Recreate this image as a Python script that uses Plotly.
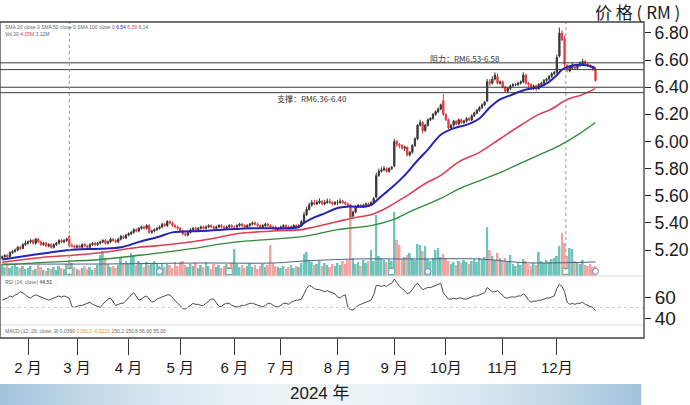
import pandas as pd
import plotly.graph_objects as go

# ---------------- data ----------------
holidays = ["2024-01-25", "2024-02-01", "2024-02-12", "2024-03-28", "2024-04-10", "2024-04-11",
            "2024-05-01", "2024-05-22", "2024-06-03", "2024-06-17", "2024-07-08", "2024-09-16",
            "2024-10-31"]

open_ = [
    5.14, 5.15, 5.16, 5.15, 5.18, 5.19, 5.20, 5.22, 5.21, 5.24,
    5.25, 5.26, 5.27, 5.25, 5.28, 5.26, 5.24, 5.25, 5.23, 5.24, 5.22, 5.24, 5.25, 5.27, 5.26, 5.27, 5.30, 5.23, 5.23,
    5.22, 5.23, 5.22, 5.24, 5.23, 5.22, 5.24, 5.25, 5.24, 5.25, 5.26, 5.27, 5.25, 5.26, 5.28, 5.27, 5.26, 5.28, 5.30, 5.29,
    5.31, 5.32, 5.33, 5.35, 5.34, 5.36, 5.37, 5.36, 5.38, 5.33, 5.34, 5.35, 5.36, 5.37, 5.39, 5.38, 5.41, 5.40, 5.38, 5.37,
    5.36, 5.34, 5.32, 5.31, 5.33, 5.35, 5.36, 5.35, 5.36, 5.37, 5.36, 5.37, 5.38, 5.37, 5.36, 5.37, 5.38, 5.37, 5.36, 5.37, 5.38,
    5.37, 5.37, 5.38, 5.39, 5.38, 5.37, 5.38, 5.39, 5.40, 5.39, 5.38, 5.37, 5.38, 5.39, 5.38, 5.37, 5.37, 5.35,
    5.36, 5.37, 5.38, 5.37, 5.36, 5.37, 5.38, 5.37, 5.38, 5.41, 5.46, 5.50, 5.53, 5.55, 5.54, 5.55, 5.56, 5.54, 5.55, 5.56, 5.55, 5.54,
    5.55, 5.55, 5.56, 5.55, 5.54, 5.53, 5.45, 5.48, 5.52, 5.53, 5.52, 5.53, 5.54, 5.53, 5.55, 5.59, 5.75, 5.78, 5.79, 5.80, 5.78, 5.80,
    5.82, 6.00, 5.98, 5.97, 5.95, 5.96, 5.90, 5.92, 5.97, 6.02, 6.12, 6.14, 6.08, 6.12, 6.16, 6.17, 6.20, 6.22, 6.24, 6.30,
    6.20, 6.16, 6.10, 6.12, 6.15, 6.13, 6.16, 6.14, 6.15, 6.17, 6.16, 6.19, 6.21, 6.23, 6.25, 6.27, 6.30, 6.44, 6.43, 6.46, 6.48, 6.43,
    6.44, 6.40, 6.37, 6.39, 6.41, 6.42, 6.42, 6.43, 6.44, 6.49, 6.43, 6.42, 6.40, 6.41, 6.39, 6.42, 6.43, 6.45, 6.46, 6.48, 6.50,
    6.51, 6.63, 6.80, 6.76, 6.56, 6.52, 6.54, 6.55, 6.54, 6.56, 6.57, 6.59, 6.57, 6.56, 6.55, 6.53,
]
high = [
    5.16, 5.17, 5.17, 5.19, 5.20, 5.21, 5.23, 5.23, 5.25, 5.27,
    5.27, 5.28, 5.28, 5.29, 5.29, 5.27, 5.26, 5.26, 5.25, 5.25, 5.25, 5.26, 5.28, 5.28, 5.28, 5.29, 5.31, 5.25, 5.24,
    5.24, 5.24, 5.25, 5.25, 5.24, 5.25, 5.26, 5.26, 5.26, 5.27, 5.28, 5.28, 5.27, 5.29, 5.29, 5.28, 5.29, 5.31, 5.31, 5.32,
    5.33, 5.34, 5.36, 5.36, 5.37, 5.38, 5.38, 5.39, 5.39, 5.35, 5.36, 5.37, 5.38, 5.40, 5.40, 5.42, 5.42, 5.41, 5.39, 5.38,
    5.37, 5.35, 5.33, 5.34, 5.36, 5.37, 5.37, 5.37, 5.38, 5.38, 5.38, 5.39, 5.39, 5.38, 5.38, 5.39, 5.39, 5.38, 5.38, 5.39, 5.39,
    5.38, 5.39, 5.40, 5.40, 5.39, 5.39, 5.40, 5.41, 5.41, 5.40, 5.39, 5.39, 5.40, 5.40, 5.39, 5.38, 5.38, 5.37,
    5.38, 5.39, 5.39, 5.38, 5.38, 5.39, 5.39, 5.39, 5.42, 5.48, 5.52, 5.55, 5.57, 5.57, 5.57, 5.58, 5.57, 5.57, 5.58, 5.58, 5.56, 5.56,
    5.57, 5.58, 5.57, 5.56, 5.55, 5.54, 5.49, 5.53, 5.54, 5.54, 5.54, 5.55, 5.55, 5.56, 5.59, 5.77, 5.80, 5.81, 5.82, 5.81, 5.81, 5.82,
    6.02, 6.01, 5.99, 5.98, 5.97, 5.96, 5.93, 5.98, 6.03, 6.13, 6.16, 6.15, 6.13, 6.17, 6.18, 6.21, 6.23, 6.25, 6.28, 6.35,
    6.21, 6.17, 6.13, 6.16, 6.16, 6.17, 6.17, 6.16, 6.18, 6.18, 6.20, 6.22, 6.24, 6.26, 6.28, 6.30, 6.46, 6.46, 6.48, 6.51, 6.50, 6.45,
    6.45, 6.41, 6.40, 6.42, 6.43, 6.43, 6.44, 6.45, 6.51, 6.50, 6.44, 6.43, 6.42, 6.42, 6.43, 6.44, 6.46, 6.47, 6.49, 6.51, 6.52,
    6.64, 6.84, 6.82, 6.78, 6.57, 6.56, 6.58, 6.57, 6.57, 6.59, 6.61, 6.60, 6.58, 6.57, 6.56, 6.54,
]
low = [
    5.13, 5.14, 5.14, 5.15, 5.17, 5.18, 5.19, 5.20, 5.21, 5.23,
    5.24, 5.25, 5.24, 5.24, 5.25, 5.23, 5.23, 5.22, 5.22, 5.21, 5.21, 5.23, 5.24, 5.25, 5.25, 5.26, 5.22, 5.22, 5.21,
    5.21, 5.21, 5.21, 5.22, 5.21, 5.21, 5.23, 5.23, 5.23, 5.24, 5.25, 5.24, 5.24, 5.25, 5.26, 5.25, 5.25, 5.27, 5.28, 5.28,
    5.30, 5.31, 5.32, 5.33, 5.33, 5.35, 5.35, 5.35, 5.32, 5.32, 5.33, 5.34, 5.35, 5.36, 5.37, 5.37, 5.39, 5.37, 5.36, 5.35,
    5.33, 5.31, 5.30, 5.30, 5.32, 5.34, 5.34, 5.34, 5.35, 5.35, 5.35, 5.36, 5.36, 5.35, 5.35, 5.36, 5.36, 5.35, 5.35, 5.36, 5.36,
    5.36, 5.36, 5.37, 5.37, 5.36, 5.36, 5.37, 5.38, 5.38, 5.37, 5.36, 5.36, 5.37, 5.37, 5.36, 5.35, 5.34, 5.34,
    5.35, 5.36, 5.36, 5.35, 5.35, 5.36, 5.36, 5.36, 5.37, 5.40, 5.45, 5.49, 5.52, 5.53, 5.53, 5.54, 5.53, 5.53, 5.54, 5.54, 5.53, 5.53,
    5.53, 5.54, 5.54, 5.53, 5.52, 5.43, 5.44, 5.47, 5.51, 5.51, 5.51, 5.52, 5.52, 5.53, 5.54, 5.58, 5.74, 5.77, 5.78, 5.77, 5.77, 5.79,
    5.81, 5.96, 5.95, 5.94, 5.93, 5.89, 5.89, 5.91, 5.96, 6.01, 6.11, 6.06, 6.07, 6.11, 6.15, 6.16, 6.19, 6.21, 6.23, 6.19,
    6.15, 6.09, 6.09, 6.11, 6.12, 6.12, 6.13, 6.13, 6.14, 6.15, 6.15, 6.18, 6.20, 6.22, 6.24, 6.26, 6.29, 6.41, 6.42, 6.45, 6.42, 6.42,
    6.39, 6.36, 6.36, 6.38, 6.40, 6.41, 6.41, 6.42, 6.43, 6.42, 6.40, 6.38, 6.38, 6.37, 6.38, 6.41, 6.42, 6.44, 6.45, 6.47, 6.49,
    6.50, 6.62, 6.74, 6.55, 6.51, 6.51, 6.53, 6.53, 6.53, 6.55, 6.56, 6.56, 6.55, 6.54, 6.52, 6.44,
]
close = [
    5.15, 5.16, 5.15, 5.18, 5.19, 5.20, 5.22, 5.21, 5.24, 5.25,
    5.26, 5.27, 5.25, 5.28, 5.26, 5.24, 5.25, 5.23, 5.24, 5.22, 5.24, 5.25, 5.27, 5.26, 5.27, 5.28, 5.23, 5.23, 5.22,
    5.23, 5.22, 5.24, 5.23, 5.22, 5.24, 5.25, 5.24, 5.25, 5.26, 5.27, 5.25, 5.26, 5.28, 5.27, 5.26, 5.28, 5.30, 5.29, 5.31,
    5.32, 5.33, 5.35, 5.34, 5.36, 5.37, 5.36, 5.38, 5.33, 5.34, 5.35, 5.36, 5.37, 5.39, 5.38, 5.41, 5.40, 5.38, 5.37, 5.36,
    5.34, 5.32, 5.31, 5.33, 5.35, 5.36, 5.35, 5.36, 5.37, 5.36, 5.37, 5.38, 5.37, 5.36, 5.37, 5.38, 5.37, 5.36, 5.37, 5.38, 5.37,
    5.37, 5.38, 5.39, 5.38, 5.37, 5.38, 5.39, 5.40, 5.39, 5.38, 5.37, 5.38, 5.39, 5.38, 5.37, 5.36, 5.35, 5.36,
    5.37, 5.38, 5.37, 5.36, 5.37, 5.38, 5.37, 5.38, 5.41, 5.46, 5.50, 5.53, 5.55, 5.54, 5.55, 5.56, 5.54, 5.55, 5.56, 5.55, 5.54, 5.55,
    5.55, 5.56, 5.55, 5.54, 5.53, 5.44, 5.48, 5.52, 5.53, 5.52, 5.53, 5.54, 5.53, 5.55, 5.58, 5.75, 5.78, 5.79, 5.80, 5.78, 5.80, 5.81,
    6.00, 5.98, 5.97, 5.95, 5.96, 5.90, 5.92, 5.97, 6.02, 6.12, 6.14, 6.08, 6.12, 6.16, 6.17, 6.20, 6.22, 6.24, 6.27, 6.20,
    6.16, 6.10, 6.12, 6.15, 6.13, 6.16, 6.14, 6.15, 6.17, 6.16, 6.19, 6.21, 6.23, 6.25, 6.27, 6.29, 6.44, 6.43, 6.46, 6.49, 6.43, 6.44,
    6.40, 6.37, 6.39, 6.41, 6.42, 6.42, 6.43, 6.44, 6.49, 6.43, 6.42, 6.40, 6.41, 6.39, 6.42, 6.43, 6.45, 6.46, 6.48, 6.50, 6.51,
    6.62, 6.80, 6.75, 6.57, 6.53, 6.55, 6.56, 6.54, 6.56, 6.58, 6.59, 6.57, 6.56, 6.55, 6.53, 6.45,
]
volume_m = [
    2.4, 1.8, 2.2, 1.6, 2.0, 2.4, 1.8, 1.6, 2.0, 1.4,
    1.6, 2.0, 1.2, 1.4, 2.2, 1.8, 1.2, 1.0, 1.6, 1.4, 1.8, 1.2, 2.0, 1.6, 1.4, 2.4, 3.2, 2.6, 1.8,
    1.4, 1.2, 1.6, 2.0, 1.4, 1.8, 1.2, 1.6, 2.2, 4.2, 5.0, 3.6, 2.4, 1.8, 2.0, 1.6, 2.2, 3.8, 2.6, 3.0,
    2.6, 4.6, 4.0, 2.2, 3.0, 2.4, 1.8, 2.8, 2.2, 2.6, 3.0, 2.4, 2.0, 2.6, 1.8, 2.4, 2.2, 1.6, 2.8, 2.0,
    2.8, 3.0, 2.2, 1.8, 2.4, 2.0, 2.6, 1.6, 2.2, 1.8, 2.8, 2.0, 1.4, 2.4, 1.8, 2.2, 1.6, 2.0, 2.4, 1.8, 2.6,
    5.4, 2.4, 1.8, 2.2, 1.6, 2.0, 2.6, 1.8, 2.2, 1.4, 2.0, 2.4, 1.8, 2.2, 6.2, 2.6, 2.0, 1.8,
    1.6, 2.0, 1.4, 1.8, 2.2, 1.6, 2.0, 1.8, 2.6, 4.4, 4.8, 3.2, 2.8, 2.2, 2.4, 3.0, 2.0, 2.6, 2.2, 1.8, 2.4, 2.0,
    2.6, 2.2, 3.0, 2.4, 3.2, 11.2, 3.6, 2.4, 2.8, 2.0, 3.2, 2.6, 3.0, 5.2, 3.0, 12.2, 4.0, 3.6, 3.2, 2.8, 3.4, 3.0,
    12.8, 7.2, 6.2, 3.4, 3.8, 4.2, 4.6, 3.6, 3.2, 6.4, 6.2, 5.0, 6.0, 3.4, 3.0, 3.6, 5.2, 5.6, 3.8, 4.4,
    3.6, 3.0, 2.4, 2.8, 2.2, 3.0, 2.6, 3.2, 2.8, 2.4, 3.0, 3.4, 2.8, 3.6, 3.2, 3.8, 9.8, 5.2, 4.0, 3.2, 4.6, 3.6,
    3.2, 3.6, 2.8, 4.2, 2.4, 2.0, 2.6, 2.2, 3.4, 3.0, 2.4, 2.0, 2.6, 2.2, 4.8, 3.0, 2.6, 3.2, 2.8, 3.4, 3.6,
    4.0, 6.0, 8.6, 6.6, 4.0, 5.6, 5.4, 3.0, 2.6, 2.4, 3.2, 2.2, 2.0, 2.4, 1.8, 2.0,
]
rsi = [
    57, 58, 59, 61, 60, 62, 63, 65, 64, 62,
    60, 59, 61, 62, 61, 60, 59, 58, 57, 58, 59, 60, 61, 60, 61, 60, 59, 51, 50,
    51, 52, 52, 53, 54, 55, 53, 52, 51, 50, 53, 56, 58, 59, 56, 52, 53, 54, 54, 57,
    60, 62, 64, 60, 57, 58, 60, 61, 58, 55, 56, 58, 59, 60, 61, 62, 62, 59, 57, 54,
    52, 49, 48.6, 50, 52, 54, 53, 53, 52, 52, 54, 56, 58, 58, 55, 51, 51, 53, 54, 54, 52,
    51, 50.5, 51, 52, 52, 53, 54, 54, 53, 52, 51, 50.5, 52, 54, 54, 52, 51, 50.5,
    52, 54, 54, 53, 55, 56, 57, 57, 58, 63, 68, 71, 70, 68, 67, 67, 66, 65, 66, 65, 64, 63,
    60, 59, 61, 62, 50, 48, 47.6, 50, 52, 53, 54, 55, 56, 57, 62, 71, 71, 70, 71, 70, 72, 73,
    77, 73, 70, 68, 66, 63, 64, 67, 71, 73, 70, 67, 68, 69, 69, 70, 71, 72, 73, 64,
    61, 58, 58, 59, 58, 59, 59, 58, 58, 59, 60, 61, 61, 62, 63, 64, 69, 67, 65, 65, 66, 64,
    61, 59, 59, 60, 60, 60, 61, 61, 63, 61, 57, 55, 56, 56, 57, 57, 58, 59, 59, 60, 61,
    68, 72, 70, 65, 55, 53, 54, 53, 54, 54, 55, 53, 52, 51, 50, 47,
]

sma20_dates = ["2024-01-17", "2024-01-29", "2024-02-15", "2024-02-27", "2024-03-14", "2024-03-26",
               "2024-04-05", "2024-04-19", "2024-04-26", "2024-05-14", "2024-06-12", "2024-07-11",
               "2024-07-15", "2024-07-19", "2024-07-25", "2024-08-01", "2024-08-07", "2024-08-16",
               "2024-08-20", "2024-08-23", "2024-08-30", "2024-09-06", "2024-09-13", "2024-09-20",
               "2024-09-27", "2024-10-03", "2024-10-14", "2024-10-18", "2024-10-24", "2024-10-30",
               "2024-11-06", "2024-11-12", "2024-11-18", "2024-11-21", "2024-11-27", "2024-12-02",
               "2024-12-04", "2024-12-10", "2024-12-18", "2024-12-23"]
sma20 = [5.13, 5.15, 5.18, 5.20, 5.21, 5.22, 5.26, 5.30, 5.33, 5.34, 5.36, 5.37, 5.40, 5.44,
         5.47, 5.51, 5.52, 5.52, 5.53, 5.58, 5.66, 5.75, 5.86, 5.94, 6.05, 6.09, 6.13, 6.17,
         6.25, 6.31, 6.34, 6.37, 6.39, 6.40, 6.44, 6.49, 6.53, 6.56, 6.56, 6.54]
sma50_dates = ["2024-01-17", "2024-02-15", "2024-02-27", "2024-03-14", "2024-04-05", "2024-04-25",
               "2024-05-14", "2024-05-23", "2024-06-05", "2024-06-26", "2024-07-12", "2024-07-19",
               "2024-08-01", "2024-08-12", "2024-08-20", "2024-08-27", "2024-09-06", "2024-09-19",
               "2024-09-27", "2024-10-08", "2024-10-18", "2024-10-30", "2024-11-12", "2024-11-21",
               "2024-11-28", "2024-12-06", "2024-12-13", "2024-12-23"]
sma50 = [5.11, 5.15, 5.16, 5.18, 5.22, 5.24, 5.27, 5.29, 5.32, 5.34, 5.35, 5.37, 5.41, 5.44,
         5.46, 5.50, 5.59, 5.69, 5.75, 5.85, 5.92, 6.02, 6.12, 6.20, 6.24, 6.31, 6.34, 6.39]
sma100_dates = ["2024-01-17", "2024-02-15", "2024-03-14", "2024-04-15", "2024-05-14", "2024-05-23",
                "2024-06-05", "2024-06-26", "2024-07-15", "2024-08-01", "2024-08-20", "2024-08-30",
                "2024-09-11", "2024-09-27", "2024-10-08", "2024-10-18", "2024-10-30", "2024-11-12",
                "2024-11-21", "2024-12-03", "2024-12-13", "2024-12-23"]
sma100 = [5.09, 5.11, 5.13, 5.17, 5.22, 5.24, 5.26, 5.28, 5.30, 5.35, 5.38, 5.42, 5.49, 5.58,
          5.65, 5.71, 5.77, 5.84, 5.90, 5.97, 6.06, 6.14]
vol_ma_dates = ["2024-01-17", "2024-03-14", "2024-05-14", "2024-06-26", "2024-07-15", "2024-08-12",
                "2024-09-13", "2024-10-18", "2024-11-12", "2024-11-25", "2024-12-23"]
vol_ma = [2.4, 2.4, 2.6, 2.6, 3.0, 3.4, 3.4, 3.4, 2.7, 2.6, 2.8]

levels = [6.36, 6.40, 6.53, 6.58]           # support / resistance (RM)
event_dates = ["2024-02-27", "2024-04-19", "2024-05-30", "2024-08-30", "2024-09-20",
               "2024-12-05 12:00", "2024-12-23"]
event_kind = ["E", "D", "E", "E", "D", "E", "D"]
marker_dates = ["2024-02-27", "2024-12-05 12:00"]   # dotted vertical markers

month_ticks = ["2024-02-02", "2024-03-01", "2024-04-01", "2024-05-02", "2024-06-04", "2024-07-01",
               "2024-08-01", "2024-09-02", "2024-10-01", "2024-11-01", "2024-12-02"]
month_labels = ["2 月", "3 月", "4 月", "5 月", "6 月", "7 月", "8 月", "9 月", "10月", "11月", "12月"]
price_ticks = [5.20, 5.40, 5.60, 5.80, 6.00, 6.20, 6.40, 6.60, 6.80]
rsi_ticks = [40, 60]

# ---------------- figure ----------------
all_days = pd.bdate_range("2024-01-17", "2024-12-23")
dates = [d for d in all_days if d.strftime("%Y-%m-%d") not in holidays]
n = min(len(dates), len(open_), len(high), len(low), len(close), len(volume_m), len(rsi))
dates = dates[:n]

UP_VOL, DN_VOL = "#6fc4b9", "#f3a3a1"
vol_colors = [UP_VOL if close[i] >= open_[i] else DN_VOL for i in range(n)]

fig = go.Figure()
DAY_MS = 86400000
fig.add_trace(go.Bar(x=dates, y=volume_m[:n], marker=dict(color=vol_colors, line=dict(width=0)),
                     width=0.75 * DAY_MS, yaxis="y", xaxis="x", hoverinfo="skip"))
fig.add_trace(go.Scatter(x=vol_ma_dates, y=vol_ma, mode="lines", line=dict(color="#4a5f8e", width=1, shape="spline"),
                         yaxis="y", xaxis="x", hoverinfo="skip"))
kind_style = {"E": dict(symbol="square", line=dict(color="#5bb5a8", width=1)),
              "D": dict(symbol="circle", line=dict(color="#5a86d6", width=1))}
for k in ["E", "D"]:
    xs = [d for d, kk in zip(event_dates, event_kind) if kk == k]
    fig.add_trace(go.Scatter(x=xs, y=[0.9] * len(xs), mode="markers",
                             marker=dict(size=6, color="white", **kind_style[k]),
                             yaxis="y", xaxis="x", hoverinfo="skip"))

fig.add_trace(go.Candlestick(x=dates, open=open_[:n], high=high[:n], low=low[:n], close=close[:n],
                             increasing=dict(line=dict(color="#3b3434", width=1), fillcolor="#3b3434"),
                             decreasing=dict(line=dict(color="#e23a40", width=1), fillcolor="#e23a40"),
                             whiskerwidth=0, yaxis="y2", xaxis="x", hoverinfo="skip"))
fig.add_trace(go.Scatter(x=sma100_dates, y=sma100, mode="lines",
                         line=dict(color="#2f8a3c", width=1.3, shape="spline"), yaxis="y2", xaxis="x"))
fig.add_trace(go.Scatter(x=sma50_dates, y=sma50, mode="lines",
                         line=dict(color="#de3d52", width=1.6, shape="spline"), yaxis="y2", xaxis="x"))
fig.add_trace(go.Scatter(x=sma20_dates, y=sma20, mode="lines",
                         line=dict(color="#2323b8", width=2, shape="spline"), yaxis="y2", xaxis="x"))
fig.add_trace(go.Scatter(x=dates, y=rsi[:n], mode="lines", line=dict(color="#4a4a4a", width=1),
                         yaxis="y3", xaxis="x", hoverinfo="skip"))

FONT = "Liberation Sans, Arial, Noto Sans CJK SC"
CJK = "Noto Sans CJK SC, Liberation Sans"

PRICE_DOM = [0.1962, 1.0]
RSI_DOM = [0.041, 0.1899]

shapes = []
for lv in levels:
    shapes.append(dict(type="line", xref="paper", x0=0, x1=1, yref="y2", y0=lv, y1=lv,
                       line=dict(color="#3a3a3a", width=1)))
for d in marker_dates:
    shapes.append(dict(type="line", xref="x", x0=d, x1=d, yref="paper", y0=PRICE_DOM[0], y1=1,
                       line=dict(color="#9a9a9a", width=1, dash="dot")))
shapes.append(dict(type="line", xref="paper", x0=0, x1=1, yref="y3", y0=50, y1=50,
                   line=dict(color="#cfcfcf", width=1, dash="dot")))
for yy in [PRICE_DOM[0], RSI_DOM[0]]:
    shapes.append(dict(type="line", xref="paper", x0=0, x1=1, yref="paper", y0=yy, y1=yy,
                       line=dict(color="#dcdcdc", width=1)))
shapes.append(dict(type="rect", xref="paper", yref="paper", x0=0, x1=1, y0=0, y1=1,
                   line=dict(color="#404040", width=1.3)))
# bottom gradient band (style only)
bx0, bx1 = 0.0, 640 / 644
by0, by1 = (338 - 405) / 316, (338 - 384) / 316
edge, mid = (160, 195, 218), (238, 244, 248)
NS = 80
for k in range(NS):
    t0, t1 = k / NS, (k + 1) / NS
    tm = (t0 + t1) / 2
    f = 1 - abs(2 * tm - 1) ** 1.8
    col = tuple(int(round(e + (m - e) * f)) for e, m in zip(edge, mid))
    shapes.append(dict(type="rect", xref="paper", yref="paper",
                       x0=bx0 + (bx1 - bx0) * t0, x1=bx0 + (bx1 - bx0) * t1 + 0.002,
                       y0=by0, y1=by1, fillcolor="rgb(%d,%d,%d)" % col, line=dict(width=0), layer="above"))

annotations = [
    dict(text="价 格 ( RM )", xref="paper", yref="paper", x=682 / 644, y=(338 - 11) / 316,
         xanchor="right", yanchor="middle", showarrow=False, font=dict(family=CJK, size=17, color="#1a1a1a")),
    dict(text="阻力：RM6.53-6.58", xref="paper", yref="paper", x=428 / 644, y=(338 - 59) / 316,
         xanchor="left", yanchor="middle", showarrow=False, font=dict(family=CJK, size=8, color="#333")),
    dict(text="支撑：RM6.36-6.40", xref="paper", yref="paper", x=275 / 644, y=(338 - 99) / 316,
         xanchor="left", yanchor="middle", showarrow=False, font=dict(family=CJK, size=8, color="#333")),
    dict(text="2024 年", xref="paper", yref="paper", x=320 / 644, y=(338 - 393.5) / 316,
         xanchor="center", yanchor="middle", showarrow=False, borderpad=0,
         font=dict(family=FONT, size=17, color="#1a1a1a")),
    dict(text="SMA 20 close 0 SMA 50 close 0 SMA 100 close 0 "
              "<span style='color:#2323b8'>6.54</span> <span style='color:#de3d52'>6.39</span> "
              "<span style='color:#2f8a3c'>6.14</span>",
         xref="paper", yref="paper", x=0.004, y=(338 - 27) / 316, xanchor="left", yanchor="middle",
         showarrow=False, font=dict(family=FONT, size=5, color="#666")),
    dict(text="Vol 20 <span style='color:#de3d52'>4.25M</span> <span style='color:#4a5f8e'>3.12M</span>",
         xref="paper", yref="paper", x=0.004, y=(338 - 34) / 316, xanchor="left", yanchor="middle",
         showarrow=False, font=dict(family=FONT, size=5, color="#666")),
    dict(text="RSI (14, close) <b>44.51</b>", xref="paper", yref="paper", x=0.004, y=(338 - 282) / 316,
         xanchor="left", yanchor="middle", showarrow=False, font=dict(family=FONT, size=5, color="#666")),
    dict(text="MACD (12, 26, close, 9) 0.0390 <span style='color:#e8902a'>0.0613</span> "
              "<span style='color:#e8902a'>-0.0223</span> 150.2 150.8 56.00 55.00",
         xref="paper", yref="paper", x=0.004, y=(338 - 331) / 316, xanchor="left", yanchor="middle",
         showarrow=False, font=dict(family=FONT, size=5, color="#666")),
]

fig.update_layout(
    width=690, height=405, autosize=False,
    margin=dict(l=0, r=46, t=22, b=67),
    paper_bgcolor="white", plot_bgcolor="white",
    showlegend=False, bargap=0.1,
    xaxis=dict(type="date", range=["2024-01-16 03:30", "2025-01-16 19:00"],
               rangebreaks=[dict(bounds=["sat", "mon"]), dict(values=holidays)],
               rangeslider=dict(visible=False), anchor="free", position=0,
               tickmode="array", tickvals=month_ticks, ticktext=month_labels,
               ticks="outside", ticklen=16, tickwidth=1, tickcolor="#333",
               tickfont=dict(family=FONT, size=15, color="#1a1a1a"),
               showgrid=False, zeroline=False, showline=False),
    yaxis=dict(domain=PRICE_DOM, range=[0, 50.8], visible=False, fixedrange=True),
    yaxis2=dict(overlaying="y", side="right", anchor="x", range=[5.0083, 6.881],
                tickmode="array", tickvals=price_ticks, ticktext=["%.2f" % v for v in price_ticks],
                ticks="outside", ticklen=6, tickwidth=1, tickcolor="#222",
                tickfont=dict(family=FONT, size=17.5, color="#1a1a1a"),
                showgrid=False, zeroline=False, showline=False),
    yaxis3=dict(domain=RSI_DOM, side="right", anchor="x", range=[33.3, 78.1],
                tickmode="array", tickvals=rsi_ticks, ticktext=[str(v) for v in rsi_ticks],
                ticks="outside", ticklen=6, tickwidth=1, tickcolor="#222",
                tickfont=dict(family=FONT, size=19, color="#1a1a1a"),
                showgrid=False, zeroline=False, showline=False),
    shapes=shapes, annotations=annotations,
)

fig.write_html("out.html")
